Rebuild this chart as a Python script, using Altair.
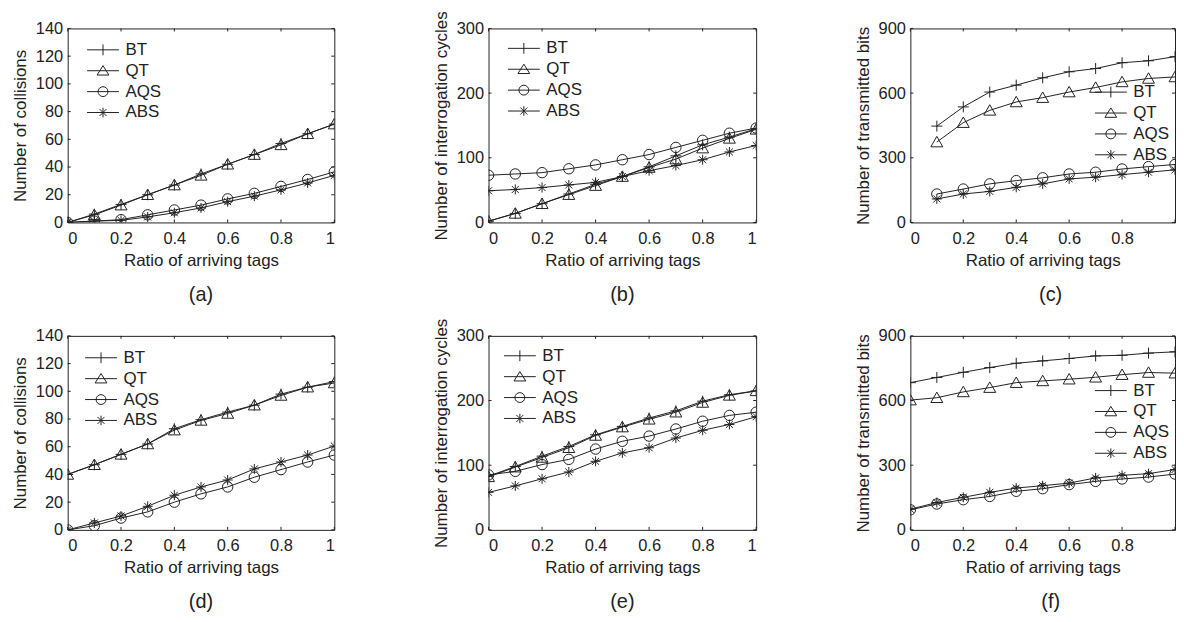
import altair as alt
import pandas as pd

INK = "#222222"
FONT = "Liberation Sans"

SERIES = ["BT", "QT", "AQS", "ABS"]
X_FULL = [0.0, 0.1, 0.2, 0.3, 0.4, 0.5, 0.6, 0.7, 0.8, 0.9, 1.0]
X_FROM_01 = [0.1, 0.2, 0.3, 0.4, 0.5, 0.6, 0.7, 0.8, 0.9, 1.0]
X_TICKS = [0, 0.2, 0.4, 0.6, 0.8, 1]
X_LABELS_CUT = [0, 0.2, 0.4, 0.6, 0.8]

# (a) Number of collisions
A_BT = [0, 6, 13, 20, 27, 35, 42, 49, 57, 64, 71]
A_QT = [0, 5.5, 12.5, 20, 27, 34, 42, 49, 56, 64, 71]
A_AQS = [0, 1, 2, 5.5, 9, 12.5, 17, 21, 26, 31, 36.5]
A_ABS = [0, 1, 1.5, 4, 7, 10.5, 15, 19, 23.5, 28.5, 34]
# (b) Number of interrogation cycles
B_BT = [2, 14, 29, 44, 59, 71, 86, 103, 120, 132, 145]
B_QT = [2, 14, 29, 43, 57, 71, 85, 98, 115, 130, 144]
B_AQS = [73, 75, 77, 83, 89, 97, 105, 116, 127, 138, 146]
B_ABS = [49, 51, 54, 58, 62, 71, 80, 88, 97, 109, 119]
# (c) Number of transmitted bits (starts at 0.1)
C_BT = [447, 536, 605, 637, 671, 699, 714, 741, 750, 769]
C_QT = [373, 463, 520, 559, 579, 605, 626, 652, 668, 675]
C_AQS = [132, 155, 179, 194, 207, 225, 233, 248, 259, 269]
C_ABS = [109, 132, 144, 163, 179, 202, 210, 222, 233, 244]
# (d) Number of collisions
D_BT = [40, 47, 54.5, 62, 73, 79.5, 85, 90, 98, 103, 107]
D_QT = [40, 47, 54.5, 62, 72, 79, 84, 90, 97, 103, 106]
D_AQS = [0, 3, 8.5, 13, 20, 26, 31, 38, 43.5, 49, 54]
D_ABS = [0, 5, 10, 17, 25, 31, 36, 44, 49, 54, 60.5]
# (e) Number of interrogation cycles
E_BT = [83, 98, 114, 129, 147, 160, 173, 184, 199, 209, 215]
E_QT = [82, 97, 112, 127, 146, 159, 171, 182, 197, 208, 215]
E_AQS = [85, 90.5, 101, 109, 125, 137, 145, 156, 168, 177, 182]
E_ABS = [58, 68, 79, 89.5, 106, 119, 127, 142, 154, 163, 175]
# (f) Number of transmitted bits
F_BT = [683, 707, 731, 753, 773, 784, 795, 807, 810, 820, 826]
F_QT = [602, 613, 640, 660, 683, 691, 699, 708, 720, 730, 727]
F_AQS = [93, 120, 140, 155, 179, 191, 210, 225, 236, 245, 259]
F_ABS = [96, 127, 151, 174, 194, 205, 217, 241, 253, 261, 280]

Y_TICKS_COLL = [0, 20, 40, 60, 80, 100, 120, 140]
Y_TICKS_CYC = [0, 100, 200, 300]
Y_TICKS_BITS = [0, 300, 600, 900]

# marker shapes (unit paths, scaled by sqrt(size)/2)
MARK = {
    "BT": "M-1,0H1M0,-1V1",
    "QT": "M0,-0.95L1,0.8L-1,0.8Z",
    "AQS": "M1,0A1,1,0,1,1,-1,0A1,1,0,1,1,1,0Z",
    "ABS": "M-1,0H1M0,-1V1M-0.7,-0.7L0.7,0.7M-0.7,0.7L0.7,-0.7",
}
MSIZE = {"BT": 121, "QT": 144, "AQS": 110, "ABS": 100}
# legend symbols: a line with the marker on it
LEG = [
    "M-1,0H1M0,-0.34V0.34",
    "M-1,0H1M0,-0.32L0.37,0.27L-0.37,0.27Z",
    "M-1,0H1M0.31,0A0.31,0.31,0,1,1,-0.31,0A0.31,0.31,0,1,1,0.31,0Z",
    "M-1,0H1M0,-0.3V0.3M-0.22,-0.22L0.22,0.22M-0.22,0.22L0.22,-0.22",
]

H = 195


def panel(xs, vals, ymax, yticks, ytitle, caption, lx, ly, width, xlabels, dx=0):
    rows = []
    for s, v in zip(SERIES, vals):
        for x, y in zip(xs, v):
            rows.append({"x": x, "y": y, "series": s})
    df = pd.DataFrame(rows)
    xs_ = alt.Scale(domain=[0, 1], nice=False, zero=False)
    ys_ = alt.Scale(domain=[0, ymax], nice=False, zero=False)
    xax = alt.Axis(values=xlabels, format="~g", title="Ratio of arriving tags")
    yax = alt.Axis(values=yticks, format="d", title=ytitle)
    base = alt.Chart(df)
    lines = base.mark_line(color=INK, strokeWidth=1, clip=True).encode(
        x=alt.X("x:Q", scale=xs_, axis=xax),
        y=alt.Y("y:Q", scale=ys_, axis=yax),
        detail="series:N",
    )
    marks = [
        base.transform_filter(alt.datum.series == s)
        .mark_point(shape=MARK[s], size=MSIZE[s], filled=False, color=INK, strokeWidth=1, opacity=1, clip=True)
        .encode(x=alt.X("x:Q", scale=xs_, axis=xax), y=alt.Y("y:Q", scale=ys_, axis=yax))
        for s in SERIES
    ]
    leg = base.mark_point(filled=False, color=INK, opacity=0, clip=True).encode(
        x=alt.X("x:Q", scale=xs_, axis=xax),
        y=alt.Y("y:Q", scale=ys_, axis=yax),
        shape=alt.Shape(
            "series:N",
            scale=alt.Scale(domain=SERIES, range=LEG),
            legend=alt.Legend(
                title=None, orient="none", legendX=lx, legendY=ly, padding=0,
                symbolSize=1024, symbolStrokeWidth=1, symbolStrokeColor=INK,
                symbolFillColor="transparent", symbolOpacity=1,
                labelFont=FONT, labelFontSize=17, labelColor=INK, labelOffset=6,
                clipHeight=16, rowPadding=4,
            ),
        ),
    )
    xt = pd.DataFrame({"x": X_TICKS})
    yt = pd.DataFrame({"y": yticks})
    tick_x_bottom = alt.Chart(xt).mark_rule(color=INK, strokeWidth=1).encode(
        x=alt.X("x:Q", scale=xs_, axis=xax), y=alt.value(H), y2=alt.value(H - 3))
    tick_x_top = alt.Chart(xt).mark_rule(color=INK, strokeWidth=1).encode(
        x=alt.X("x:Q", scale=xs_, axis=xax), y=alt.value(0), y2=alt.value(3))
    tick_y_left = alt.Chart(yt).mark_rule(color=INK, strokeWidth=1).encode(
        y=alt.Y("y:Q", scale=ys_, axis=yax), x=alt.value(0), x2=alt.value(3))
    tick_y_right = alt.Chart(yt).mark_rule(color=INK, strokeWidth=1).encode(
        y=alt.Y("y:Q", scale=ys_, axis=yax), x=alt.value(width - 3), x2=alt.value(width))
    return alt.layer(
        lines, *marks, leg, tick_x_bottom, tick_x_top, tick_y_left, tick_y_right
    ).properties(
        width=width, height=H,
        title=alt.TitleParams(caption, orient="bottom", anchor="middle", frame="group",
                              offset=16.5, fontSize=20, font=FONT, fontWeight="normal",
                              color=INK, dx=dx),
    )


pa = panel(X_FULL, [A_BT, A_QT, A_AQS, A_ABS], 140, Y_TICKS_COLL, "Number of collisions", "(a)", 19, 13.5, 268, X_TICKS)
pb = panel(X_FULL, [B_BT, B_QT, B_AQS, B_ABS], 300, Y_TICKS_CYC, "Number of interrogation cycles", "(b)", 19, 12, 269, X_TICKS)
pc = panel(X_FROM_01, [C_BT, C_QT, C_AQS, C_ABS], 900, Y_TICKS_BITS, "Number of transmitted bits", "(c)", 185, 56, 266, X_LABELS_CUT, dx=8)
pd_ = panel(X_FULL, [D_BT, D_QT, D_AQS, D_ABS], 140, Y_TICKS_COLL, "Number of collisions", "(d)", 17, 14, 268, X_TICKS)
pe = panel(X_FULL, [E_BT, E_QT, E_AQS, E_ABS], 300, Y_TICKS_CYC, "Number of interrogation cycles", "(e)", 15, 12, 269, X_TICKS)
pf = panel(X_FULL, [F_BT, F_QT, F_AQS, F_ABS], 900, Y_TICKS_BITS, "Number of transmitted bits", "(f)", 185, 47, 266, X_LABELS_CUT, dx=8)

chart = (
    alt.concat(pa, pb, pc, pd_, pe, pf, columns=3, spacing={"row": 114, "column": 155}, bounds="flush")
    .resolve_scale(x="independent", y="independent", shape="independent")
    .resolve_legend(shape="independent")
    .properties(padding={"left": 3, "top": 0, "right": 0, "bottom": 0}, background="white")
    .configure_view(stroke=INK, strokeWidth=1)
    .configure_axis(
        domain=False, ticks=False, grid=False,
        labelFont=FONT, labelFontSize=16.5, labelColor=INK,
        titleFont=FONT, titleFontSize=17, titleFontWeight="normal", titleColor=INK,
    )
    .configure_axisX(labelPadding=8, titlePadding=5.5)
    .configure_axisY(labelPadding=5, titlePadding=5.5)
)

chart.save("out.html", embed_options={"renderer": "svg", "actions": False})
